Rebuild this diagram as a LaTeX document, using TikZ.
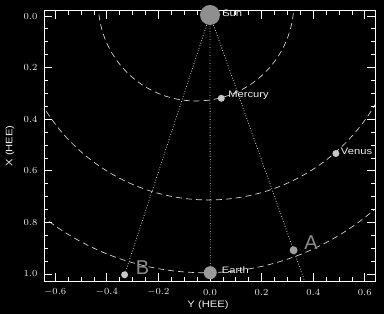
\documentclass[tikz,border=0pt]{standalone}
\usepackage{fontspec}
\setmainfont{Liberation Sans}
\newfontfamily\hfont[FakeStretch=1.2]{Liberation Sans}
\definecolor{sunc}{HTML}{8F8F8F}
\definecolor{earthcol}{HTML}{9A9A9A}
\definecolor{acol}{HTML}{A0A0A0}
\definecolor{lightdot}{HTML}{C8C8C8}
\definecolor{letcol}{HTML}{8A8A8A}
\begin{document}
\begin{tikzpicture}[x=193.5pt,y=-193.5pt,
  lab/.style={text=gray!12, font=\hfont\fontsize{7}{8}\selectfont, inner sep=0pt},
  big/.style={text=letcol, font=\fontsize{15}{16}\selectfont, inner sep=0pt},
  orbit/.style={draw=gray!30, line width=0.5pt, dash pattern=on 4.5pt off 3pt},
  ray/.style={draw=gray!40, line width=0.6pt, dash pattern=on 0.6pt off 1.4pt},
  body/.style={circle, inner sep=0pt, draw=none},
  ax/.style={draw=white, line width=0.75pt},
  tk/.style={draw=white, line width=0.6pt},
]
\fill[black] (-0.8140,-0.0620) rectangle (0.6744,1.1550);
\useasboundingbox (-0.8140,-0.0620) rectangle (0.6744,1.1550);

\coordinate (aend) at (0.3665,1.0275);

\begin{scope}
\clip (-0.642,-0.0205) rectangle (0.640,1.0275);
\draw[orbit] (-0.054,-0.0496) circle[radius=0.379];
\draw[orbit] (-0.0054,-0.035) circle[radius=0.748];
\draw[orbit] (-0.022,-0.016) circle[radius=1.011];
\coordinate (sunpos) at (0,-0.004);
\coordinate (earthpos) at (0.001,0.995);
\coordinate (bpos) at (-0.331,1.003);
\draw[ray] (sunpos) -- (earthpos);
\draw[ray] (sunpos) -- (bpos);
\draw[ray] (sunpos) -- (aend);
\end{scope}

% frame and ticks
\draw[ax] (-0.642,-0.0205) rectangle (0.640,1.0275);
\foreach \i in {-12,...,12}{
  \pgfmathsetmacro\v{\i*0.05}
  \draw[tk] (\v,1.0275) -- ++(0,-0.0155);
  \draw[tk] (\v,-0.0205) -- ++(0,0.0155);
}
\foreach \i in {-3,...,3}{
  \pgfmathsetmacro\v{\i*0.2}
  \draw[tk] (\v,1.0275) -- ++(0,-0.031);
  \draw[tk] (\v,-0.0205) -- ++(0,0.031);
  \node[lab] at (\v,1.0717) {\pgfmathprintnumber[fixed,precision=1,zerofill]{\v}};
}
\foreach \i in {0,...,20}{
  \pgfmathsetmacro\v{\i*0.05}
  \draw[tk] (-0.642,\v) -- ++(0.0155,0);
  \draw[tk] (0.640,\v) -- ++(-0.0155,0);
}
\foreach \i in {0,...,5}{
  \pgfmathsetmacro\v{\i*0.2}
  \draw[tk] (-0.642,\v) -- ++(0.031,0);
  \draw[tk] (0.640,\v) -- ++(-0.031,0);
  \node[lab, anchor=east] at (-0.668,\v) {\pgfmathprintnumber[fixed,precision=1,zerofill]{\v}};
}
\node[lab] at (-0.0078,1.120) {Y (HEE)};
\node[lab, rotate=90] at (-0.775,0.504) {X (HEE)};

% bodies
\node[body, fill=sunc, minimum size=15pt] (sun) at (sunpos) {};
\node[body, fill=earthcol, minimum size=9.75pt] (earth) at (earthpos) {};
\node[body, fill=lightdot, minimum size=5.25pt] (mercury) at (0.0438,0.319) {};
\node[body, fill=lightdot, minimum size=5.25pt] (venus) at (0.488,0.533) {};
\node[body, fill=acol, minimum size=6pt] (A) at (0.324,0.908) {};
\node[body, fill=lightdot, minimum size=5.25pt] (B) at (bpos) {};

% labels
\node[lab, anchor=west] (sunl) at (0.0465,-0.0097) {Sun};
\node[lab, anchor=west] (mercl) at (0.0698,0.306) {Mercury};
\node[lab, anchor=west] (venl) at (0.5066,0.526) {Venus};
\node[lab, anchor=west] (earl) at (0.0453,0.9845) {Earth};
\node[big] (Al) at (0.3915,0.880) {A};
\node[big] (Bl) at (-0.2616,0.975) {B};
\end{tikzpicture}
\end{document}
